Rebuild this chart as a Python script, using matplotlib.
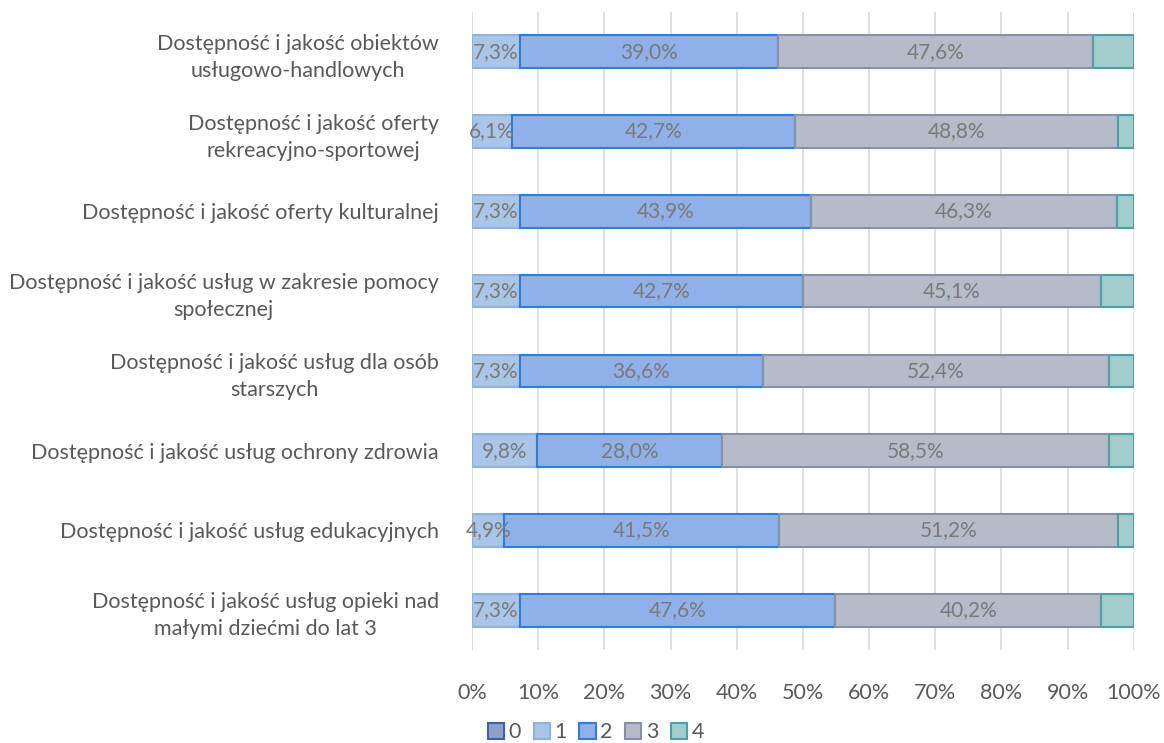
import matplotlib.pyplot as plt
import numpy as np

plt.rcParams['font.family'] = ['Lato', 'DejaVu Sans']

categories = [
    "Dostępność i jakość obiektów\nusługowo-handlowych",
    "Dostępność i jakość oferty\nrekreacyjno-sportowej",
    "Dostępność i jakość oferty kulturalnej",
    "Dostępność i jakość usług w zakresie pomocy\nspołecznej",
    "Dostępność i jakość usług dla osób\nstarszych",
    "Dostępność i jakość usług ochrony zdrowia",
    "Dostępność i jakość usług edukacyjnych",
    "Dostępność i jakość usług opieki nad\nmałymi dziećmi do lat 3",
]
series_names = ["0", "1", "2", "3", "4"]
s0 = [0.0, 0.0, 0.0, 0.0, 0.0, 0.0, 0.0, 0.0]
s1 = [7.3, 6.1, 7.3, 7.3, 7.3, 9.8, 4.9, 7.3]
s2 = [39.0, 42.7, 43.9, 42.7, 36.6, 28.0, 41.5, 47.6]
s3 = [47.6, 48.8, 46.3, 45.1, 52.4, 58.5, 51.2, 40.2]
s4 = [6.1, 2.4, 2.5, 4.9, 3.7, 3.7, 2.4, 4.9]

faces = ["#8f9fcc", "#a9c5e8", "#8fb0e8", "#b5bbc9", "#a3cccd"]
edges = ["#3f5fa8", "#8db2dd", "#2e7dd6", "#8491a6", "#4f9fa6"]

fig = plt.figure(figsize=(11.64, 7.43), dpi=100)
ax = fig.add_axes([0.4055, 0.125, 0.5685, 0.859])

y = np.arange(len(categories))[::-1]
left = np.zeros(len(categories))
for vals, name, fc, ec in zip([s0, s1, s2, s3, s4], series_names, faces, edges):
    vals = np.array(vals)
    ax.barh(y, vals, left=left, height=0.41, color=fc, edgecolor=ec,
            linewidth=1.5, label=name, zorder=3)
    if name in ("1", "2", "3"):
        for yi, l, v in zip(y, left, vals):
            ax.text(l + v / 2, yi, f"{v:.1f}%".replace(".", ","),
                    ha='center', va='center', fontsize=15, color="#7a7a7a", zorder=4)
    left += vals

ax.set_xlim(0, 100)
ax.set_ylim(-0.5, len(categories) - 0.5)
ax.set_xticks(np.arange(0, 101, 10))
ax.set_xticklabels([f"{t}%" for t in range(0, 101, 10)])
ax.set_yticks(y)
ax.set_yticklabels(categories, multialignment='center', linespacing=1.45)
ax.tick_params(axis='both', length=0, labelsize=15.5, colors="#595959")
ax.tick_params(axis='x', pad=24)
ax.tick_params(axis='y', pad=24)
ax.grid(axis='x', color="#d9d9d9", linewidth=1.2, zorder=0)
for s in ax.spines.values():
    s.set_visible(False)

fig.legend(loc='lower center', bbox_to_anchor=(0.512, -0.025), ncol=5, frameon=False,
           fontsize=15.5, labelcolor="#595959", handlelength=0.75, handleheight=0.75,
           handletextpad=0.2, columnspacing=0.6)

fig.savefig("out.png", dpi=100)
